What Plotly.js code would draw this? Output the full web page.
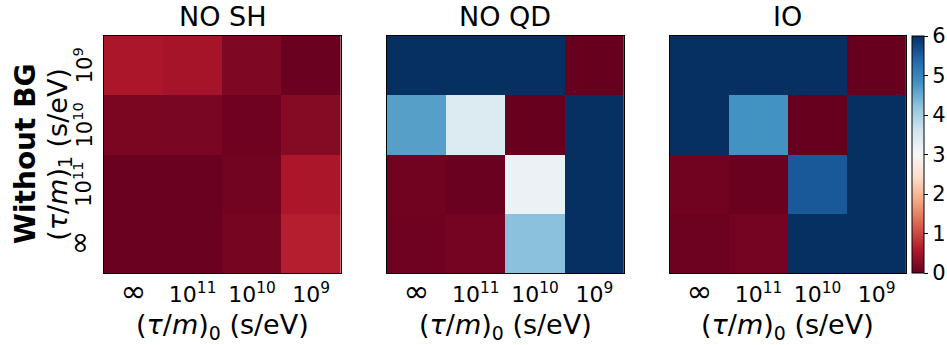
<!DOCTYPE html>
<html>
<head>
<meta charset="utf-8">
<script src="https://cdn.plot.ly/plotly-3.0.1.min.js"></script>
<style>
html, body { margin: 0; padding: 0; background: #ffffff; }
#chart { width: 947px; height: 345px; }
</style>
</head>
<body>
<div id="chart"></div>
<script>
// ---- data ----
const panelTitles = ['NO SH', 'NO QD', 'IO'];
const xCategories = ['∞', '10<sup>11</sup>', '10<sup>10</sup>', '10<sup>9</sup>'];
const yCategories = ['10<sup>9</sup>', '10<sup>10</sup>', '10<sup>11</sup>', '∞']; // top to bottom
const zNoSH = [
  [0.55, 0.50, 0.18, 0.03],
  [0.16, 0.14, 0.06, 0.24],
  [0.03, 0.03, 0.09, 0.55],
  [0.03, 0.03, 0.12, 0.65]
];
const zNoQD = [
  [6.00, 6.00, 6.00, 0.00],
  [4.66, 3.43, 0.00, 6.00],
  [0.08, 0.03, 3.19, 6.00],
  [0.06, 0.10, 4.25, 6.00]
];
const zIO = [
  [6.00, 6.00, 6.00, 0.00],
  [6.00, 4.82, 0.00, 6.00],
  [0.08, 0.02, 5.55, 6.00],
  [0.04, 0.10, 6.00, 6.00]
];
const colorbarTicks = [0, 1, 2, 3, 4, 5, 6];

// matplotlib RdBu
const rdbu = [
  [0.0, '#67001f'], [0.1, '#b2182b'], [0.2, '#d6604d'], [0.3, '#f4a582'],
  [0.4, '#fddbc7'], [0.5, '#f7f7f7'], [0.6, '#d1e5f0'], [0.7, '#92c5de'],
  [0.8, '#4393c3'], [0.9, '#2166ac'], [1.0, '#053061']
];

const W = 947, H = 345;
const FONT = 'DejaVu Sans, sans-serif';
const bigInf = (s, px) => s.replace('∞', '<span style="font-size:' + px + 'px">∞</span>');
const xIdx = xCategories.map((_, i) => i);
const yIdx = yCategories.map((_, i) => i);
const zs = [zNoSH, zNoQD, zIO];
const panelPx = [[104, 342], [388, 626], [672, 909]];
const topPx = 36, botPx = 273;
const yDom = [1 - botPx / H, 1 - topPx / H];

const traces = zs.map((z, i) => ({
  type: 'heatmap',
  x: xIdx, y: yIdx, z: z,
  xaxis: i === 0 ? 'x' : 'x' + (i + 1),
  yaxis: i === 0 ? 'y' : 'y' + (i + 1),
  colorscale: rdbu, zmin: 0, zmax: 6,
  showscale: i === 2,
  hoverinfo: 'skip',
  colorbar: i === 2 ? {
    x: 915 / W, xanchor: 'left', xpad: 0, ypad: 0,
    y: 1 - (topPx + botPx) / 2 / H, yanchor: 'middle',
    len: (botPx - topPx) / H, lenmode: 'fraction',
    thickness: 12, thicknessmode: 'pixels',
    outlinewidth: 1, outlinecolor: '#000',
    tickmode: 'array', tickvals: colorbarTicks, ticktext: colorbarTicks.map(String),
    ticks: 'outside', ticklen: 4, tickcolor: '#000',
    tickfont: { family: FONT, size: 21, color: '#000' }
  } : undefined
}));

const layout = {
  width: W, height: H,
  margin: { l: 0, r: 0, t: 0, b: 0 },
  paper_bgcolor: '#fff', plot_bgcolor: '#fff',
  font: { family: FONT, color: '#000' },
  showlegend: false,
  annotations: []
};

panelPx.forEach((p, i) => {
  const sfx = i === 0 ? '' : String(i + 1);
  layout['xaxis' + sfx] = {
    domain: [p[0] / W, p[1] / W], anchor: 'y' + sfx,
    range: [-0.5, 3.5], tickmode: 'array', tickvals: xIdx,
    ticktext: xCategories.map(s => bigInf(s, 31)),
    ticks: '', showgrid: false, zeroline: false,
    showline: true, mirror: true, linecolor: '#000', linewidth: 1,
    tickfont: { family: FONT, size: 22, color: '#000' },
    ticklabelstandoff: 2, fixedrange: true
  };
  layout['yaxis' + sfx] = {
    domain: yDom, anchor: 'x' + sfx,
    range: [3.5, -0.5], tickmode: 'array', tickvals: yIdx, ticktext: yCategories,
    showticklabels: false,
    ticks: '', showgrid: false, zeroline: false,
    showline: true, mirror: true, linecolor: '#000', linewidth: 1,
    fixedrange: true
  };
  const cx = (p[0] + p[1]) / 2 / W;
  layout.annotations.push({
    text: panelTitles[i], xref: 'paper', yref: 'paper', x: cx, y: 1 - 16 / H,
    xanchor: 'center', yanchor: 'middle', showarrow: false,
    font: { family: FONT, size: 27, color: '#000' }
  });
  layout.annotations.push({
    text: '(<i>τ</i>/<i>m</i>)<sub>0</sub> (s/eV)', xref: 'paper', yref: 'paper',
    x: cx, y: 1 - 326 / H, xanchor: 'center', yanchor: 'middle', showarrow: false,
    font: { family: FONT, size: 27, color: '#000' }
  });
});

// rotated y tick labels of the first panel, placed through the y scale
yCategories.forEach((lab, j) => {
  layout.annotations.push({
    text: bigInf(lab, 29), xref: 'paper', yref: 'y', x: 98 / W, y: yIdx[j],
    xanchor: 'right', yanchor: 'middle', textangle: -90, showarrow: false,
    borderpad: 0, font: { family: FONT, size: 21, color: '#000' }
  });
});

layout.annotations.push({
  text: '(<i>τ</i>/<i>m</i>)<sub>1</sub> (s/eV)', xref: 'paper', yref: 'paper',
  x: 60 / W, y: 1 - 154 / H, xanchor: 'center', yanchor: 'middle', textangle: -90,
  showarrow: false, font: { family: FONT, size: 27, color: '#000' }
});
layout.annotations.push({
  text: '<b>Without BG</b>', xref: 'paper', yref: 'paper',
  x: 26 / W, y: 1 - 154 / H, xanchor: 'center', yanchor: 'middle', textangle: -90,
  showarrow: false, font: { family: FONT, size: 28, color: '#000' }
});

Plotly.newPlot('chart', traces, layout, { displayModeBar: false, staticPlot: true });
</script>
</body>
</html>
